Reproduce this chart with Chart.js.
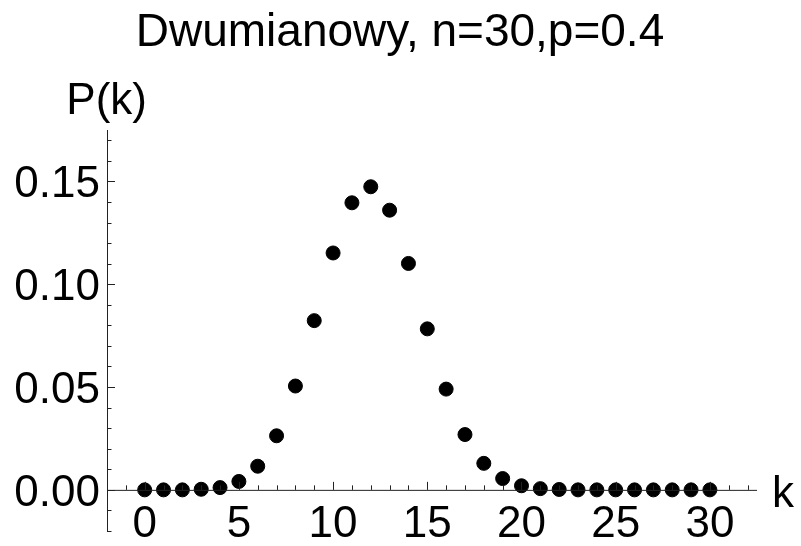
<!DOCTYPE html>
<html>
<head>
<meta charset="utf-8">
<script src="https://cdn.jsdelivr.net/npm/chart.js@4/dist/chart.umd.min.js"></script>
<style>
  html, body { margin: 0; padding: 0; background: #fff; }
  #wrap { width: 801px; height: 546px; }
</style>
</head>
<body>
<div id="wrap"><canvas id="chart" width="801" height="546"></canvas></div>
<script>
/* data */
const kValues = [0, 1, 2, 3, 4, 5, 6, 7, 8, 9, 10, 11, 12, 13, 14, 15,
  16, 17, 18, 19, 20, 21, 22, 23, 24, 25, 26, 27, 28, 29, 30];
const pValues = [0.0000, 0.0000, 0.0000, 0.0003, 0.0011, 0.0041, 0.0115, 0.0263,
  0.0505, 0.0823, 0.1152, 0.1396, 0.1474, 0.1360, 0.1101, 0.0783, 0.0490, 0.0269,
  0.0129, 0.0055, 0.0020, 0.0006, 0.0002, 0.0000, 0.0000, 0.0000, 0.0000, 0.0000,
  0.0000, 0.0000, 0.0000];
const xTickLabels = [0, 5, 10, 15, 20, 25, 30];
const yTickLabels = ['0.00', '0.05', '0.10', '0.15'];
const yTickValues = [0, 0.05, 0.10, 0.15];

const titleText = 'Dwumianowy, n=30,p=0.4';
const FONT = '44px "Liberation Sans", Arial, sans-serif';
const TITLE_FONT = '46px "Liberation Sans", Arial, sans-serif';

// Mathematica-style axes: crossing lines, inward ticks, labels drawn by hand
const axesPlugin = {
  id: 'mmaAxes',
  afterDraw(chart) {
    const ctx = chart.ctx;
    const xs = chart.scales.x, ys = chart.scales.y;
    const x0 = xs.getPixelForValue(xs.min);
    const x1 = xs.getPixelForValue(xs.max);
    const yTop = ys.getPixelForValue(ys.max);
    const yBot = ys.getPixelForValue(ys.min);
    const yZero = ys.getPixelForValue(0);
    ctx.save();
    ctx.strokeStyle = '#222';
    ctx.lineWidth = 1;
    ctx.beginPath();
    ctx.moveTo(x0, yZero + 0.5); ctx.lineTo(x1, yZero + 0.5);
    ctx.moveTo(Math.round(x0) + 0.5, yTop); ctx.lineTo(Math.round(x0) + 0.5, yBot);
    // x ticks
    for (let k = -1; k <= 32; k++) {
      const px = Math.round(xs.getPixelForValue(k)) + 0.5;
      const len = k % 5 === 0 ? 8 : 4.5;
      ctx.moveTo(px, yZero); ctx.lineTo(px, yZero - len);
    }
    // y ticks
    for (let i = -2; i <= 17; i++) {
      const py = Math.round(ys.getPixelForValue(i / 100)) + 0.5;
      const len = i % 5 === 0 ? 8 : 4.5;
      ctx.moveTo(x0, py); ctx.lineTo(x0 + len, py);
    }
    ctx.stroke();

    ctx.fillStyle = '#000';
    ctx.font = FONT;
    ctx.textBaseline = 'alphabetic';
    ctx.textAlign = 'center';
    xTickLabels.forEach(v => {
      ctx.fillText(String(v), xs.getPixelForValue(v), yZero + 47);
    });
    ctx.textAlign = 'right';
    yTickLabels.forEach((t, i) => {
      ctx.fillText(t, x0 - 7, ys.getPixelForValue(yTickValues[i]) + 16);
    });
    // axis labels
    ctx.textAlign = 'left';
    ctx.fillText('k', x1 + 15, yZero + 17);
    ctx.textAlign = 'right';
    ctx.fillText('P(k)', x0 + 40, yTop - 16);
    // title
    ctx.font = TITLE_FONT;
    ctx.textAlign = 'center';
    ctx.fillText(titleText, 400, 46);
    ctx.restore();
  }
};

new Chart(document.getElementById('chart'), {
  type: 'scatter',
  data: {
    datasets: [{
      data: kValues.map((k, i) => ({ x: k, y: pValues[i] })),
      backgroundColor: '#000',
      borderColor: '#000',
      pointRadius: 7,
      pointHoverRadius: 7
    }]
  },
  options: {
    responsive: false,
    animation: false,
    events: [],
    layout: { padding: { left: 107, right: 44, top: 130, bottom: 15 } },
    plugins: { legend: { display: false }, tooltip: { enabled: false } },
    scales: {
      x: { type: 'linear', min: -2, max: 32.5, display: false },
      y: { type: 'linear', min: -0.02, max: 0.175, display: false }
    }
  },
  plugins: [axesPlugin]
});
</script>
</body>
</html>
